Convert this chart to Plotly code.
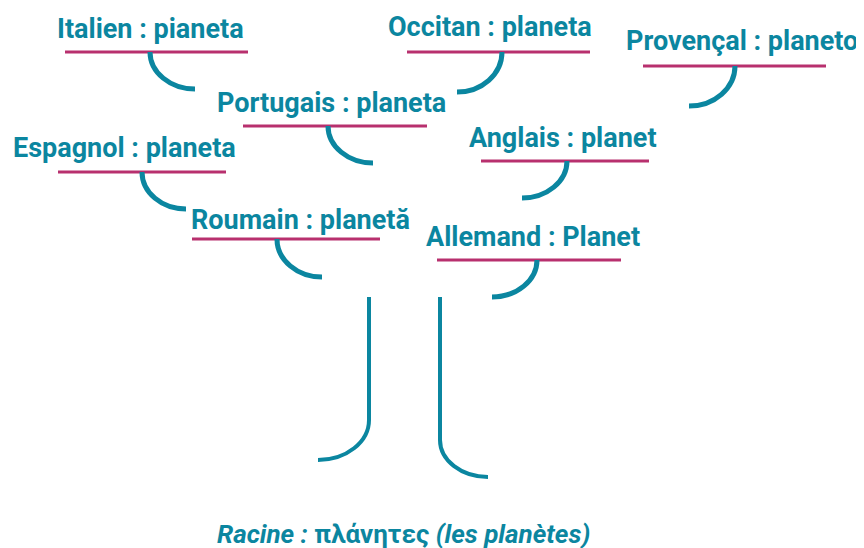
import plotly.graph_objects as go

TEAL = "#0b86a0"
MAGENTA = "#b8306e"

# Word labels (language : word)
languages = ["Italien", "Occitan", "Provençal", "Portugais", "Espagnol",
             "Anglais", "Roumain", "Allemand"]
words = ["pianeta", "planeta", "planeto", "planeta", "planeta",
         "planet", "planetă", "Planet"]
label_x = [150, 490, 742, 331, 124, 563, 300, 533]
label_y = [29, 27, 41, 103, 148, 138, 220, 237]

# Underlines under each label
line_y = [52, 52, 66, 126, 172, 161, 239, 260]
line_x0 = [65, 407, 643, 243, 58, 481, 192, 437]
line_x1 = [248, 590, 826, 427, 226, 649, 380, 621]

# Hooks hanging from underlines
hook_x = [150, 502, 735, 328, 142, 567, 277, 537]
hook_end_x = [195, 457, 689, 373, 186, 522, 322, 492]
hook_end_y = [89, 92, 106, 163, 209, 198, 277, 297]

# Trunk
trunk_x = [369, 440]
trunk_top = [297, 297]
trunk_bend = [420, 440]
trunk_end_x = [318, 488]
trunk_end_y = [460, 477]

root_text = "<b><i>Racine :</i> πλάνητες <i>(les planètes)</i></b>"
root_x, root_y = 403, 534

FONT = "Roboto"
FS = 27
OFF = 8  # page body margin compensation

fig = go.Figure()
shapes = []
for y, x0, x1 in zip(line_y, line_x0, line_x1):
    shapes.append(dict(type="line", x0=x0, x1=x1, y0=y, y1=y,
                       xref="x", yref="y", line=dict(color=MAGENTA, width=3)))
k = 0.552
for sx, sy, ex, ey in zip(hook_x, line_y, hook_end_x, hook_end_y):
    dx, dy = ex - sx, ey - sy
    p = (f"M {sx},{sy} C {sx},{sy + k*dy} {ex - k*dx},{ey} {ex},{ey}")
    shapes.append(dict(type="path", path=p, xref="x", yref="y",
                       line=dict(color=TEAL, width=5)))
for tx, tt, tb, ex, ey in zip(trunk_x, trunk_top, trunk_bend, trunk_end_x, trunk_end_y):
    dx, dy = ex - tx, ey - tb
    p = (f"M {tx},{tt} L {tx},{tb} C {tx},{tb + k*dy} {ex - k*dx},{ey} {ex},{ey}")
    shapes.append(dict(type="path", path=p, xref="x", yref="y",
                       line=dict(color=TEAL, width=4)))

annotations = []
for lang, w, x, y in zip(languages, words, label_x, label_y):
    annotations.append(dict(x=x, y=y, xref="x", yref="y", text=f"<b>{lang} : {w}</b>",
                            showarrow=False, xanchor="center", yanchor="middle",
                            font=dict(family=FONT, size=FS, color=TEAL)))
annotations.append(dict(x=root_x, y=root_y, xref="x", yref="y", text=root_text,
                        showarrow=False, xanchor="center", yanchor="middle",
                        font=dict(family=FONT, size=26, color=TEAL)))

fig.update_layout(
    width=864, height=548,
    margin=dict(l=0, r=0, t=0, b=0),
    paper_bgcolor="white", plot_bgcolor="white",
    xaxis=dict(range=[OFF, 864 + OFF], visible=False, fixedrange=True),
    yaxis=dict(range=[548 + OFF, OFF], visible=False, fixedrange=True),
    shapes=shapes, annotations=annotations, showlegend=False,
)
fig.write_html("out.html")
